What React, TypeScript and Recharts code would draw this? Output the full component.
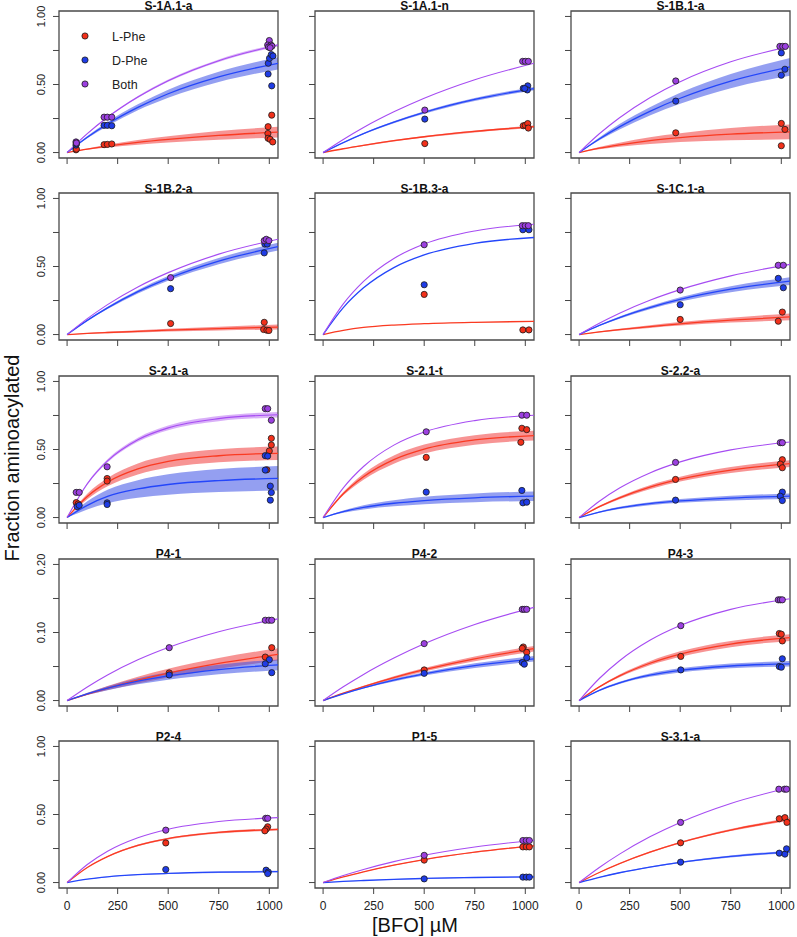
import React from 'react'
import { ComposedChart, Line, Area, Scatter, XAxis, YAxis, ReferenceArea } from 'recharts'

const FONT = '"Liberation Sans", Arial, Helvetica, sans-serif'

const RED = '#fa3a22'
const BLUE = '#2446fa'
const PURPLE = '#a64cf2'
const RED_DOT = '#f2301a'
const BLUE_DOT = '#1f3ce6'
const PURPLE_DOT = '#9c40e0'
const RED_BAND = 'rgba(240, 60, 60, 0.55)'
const BLUE_BAND = 'rgba(60, 80, 230, 0.55)'
const PURPLE_BAND = 'rgba(170, 80, 240, 0.45)'

// panel titles, row by row
const TITLES = [
  'S-1A.1-a', 'S-1A.1-n', 'S-1B.1-a',
  'S-1B.2-a', 'S-1B.3-a', 'S-1C.1-a',
  'S-2.1-a', 'S-2.1-t', 'S-2.2-a',
  'P4-1', 'P4-2', 'P4-3',
  'P2-4', 'P1-5', 'S-3.1-a',
]

const LEGEND = [
  { name: 'L-Phe', color: RED_DOT },
  { name: 'D-Phe', color: BLUE_DOT },
  { name: 'Both', color: PURPLE_DOT },
]

// [BFO] grid the fitted curves are read at
const X_GRID = [0, 100, 200, 350, 500, 750, 1043]
const X_TICKS = [0, 250, 500, 750, 1000]
const Y_TICKS = [0, 0.25, 0.5, 0.75, 1]
const Y_LABELS = [0, 0.5, 1]
const Y_TICKS_P4 = [0, 0.05, 0.1, 0.15, 0.2]
const Y_LABELS_P4 = [0, 0.1, 0.2]

// fitted curves (one row per panel, values at X_GRID)
const FIT_L = [
  [0, 0.025, 0.047, 0.075, 0.097, 0.126, 0.15],
  [0, 0.028, 0.053, 0.087, 0.116, 0.155, 0.19],
  [0, 0.032, 0.057, 0.088, 0.11, 0.135, 0.152],
  [0, 0.008, 0.015, 0.024, 0.032, 0.044, 0.055],
  [0, 0.03, 0.052, 0.07, 0.08, 0.09, 0.097],
  [0, 0.019, 0.036, 0.059, 0.079, 0.106, 0.13],
  [0, 0.155, 0.26, 0.357, 0.412, 0.454, 0.472],
  [0, 0.175, 0.3, 0.426, 0.503, 0.57, 0.602],
  [0, 0.08, 0.145, 0.223, 0.282, 0.349, 0.396],
  [0, 0.0096, 0.0184, 0.0301, 0.0404, 0.0547, 0.0678],
  [0, 0.0108, 0.0206, 0.0338, 0.0453, 0.0614, 0.0762],
  [0, 0.0201, 0.0362, 0.0548, 0.0683, 0.083, 0.0926],
  [0, 0.111, 0.191, 0.273, 0.323, 0.368, 0.39],
  [0, 0.042, 0.079, 0.128, 0.169, 0.223, 0.27],
  [0, 0.074, 0.139, 0.223, 0.294, 0.386, 0.464],
]

const FIT_D = [
  [0, 0.113, 0.21, 0.332, 0.432, 0.556, 0.656],
  [0, 0.073, 0.139, 0.223, 0.295, 0.39, 0.47],
  [0, 0.1, 0.189, 0.303, 0.399, 0.525, 0.63],
  [0, 0.104, 0.196, 0.315, 0.413, 0.54, 0.646],
  [0, 0.198, 0.343, 0.492, 0.585, 0.67, 0.713],
  [0, 0.067, 0.125, 0.198, 0.258, 0.333, 0.393],
  [0, 0.09, 0.155, 0.21, 0.243, 0.272, 0.288],
  [0, 0.044, 0.075, 0.105, 0.125, 0.145, 0.157],
  [0, 0.04, 0.071, 0.102, 0.122, 0.143, 0.157],
  [0, 0.0099, 0.0182, 0.0284, 0.0362, 0.0456, 0.0525],
  [0, 0.0099, 0.0187, 0.03, 0.0392, 0.0513, 0.0614],
  [0, 0.015, 0.026, 0.0373, 0.0443, 0.0508, 0.054],
  [0, 0.025, 0.042, 0.058, 0.067, 0.076, 0.081],
  [0, 0.008, 0.015, 0.024, 0.03, 0.037, 0.042],
  [0, 0.0385, 0.072, 0.114, 0.1485, 0.192, 0.226],
]

const FIT_B = [
  [0, 0.139, 0.259, 0.408, 0.528, 0.675, 0.79],
  [0, 0.096, 0.184, 0.299, 0.399, 0.535, 0.656],
  [0, 0.138, 0.256, 0.403, 0.521, 0.667, 0.78],
  [0, 0.117, 0.22, 0.35, 0.455, 0.591, 0.7],
  [0, 0.225, 0.39, 0.559, 0.665, 0.761, 0.81],
  [0, 0.083, 0.157, 0.252, 0.33, 0.431, 0.516],
  [0, 0.248, 0.416, 0.572, 0.659, 0.727, 0.755],
  [0, 0.218, 0.375, 0.532, 0.628, 0.712, 0.752],
  [0, 0.12, 0.217, 0.328, 0.409, 0.497, 0.555],
  [0, 0.02, 0.0376, 0.0599, 0.078, 0.1012, 0.12],
  [0, 0.0202, 0.0384, 0.0624, 0.0834, 0.1118, 0.137],
  [0, 0.0324, 0.0585, 0.0885, 0.1102, 0.134, 0.1495],
  [0, 0.1325, 0.23, 0.329, 0.392, 0.448, 0.477],
  [0, 0.0512, 0.0961, 0.1536, 0.2008, 0.2616, 0.311],
  [0, 0.111, 0.209, 0.336, 0.442, 0.581, 0.698],
]

// half widths of the shaded bands, at X_GRID
const BAND_L = [
  [0, 0.005, 0.01, 0.017, 0.023, 0.032, 0.04],
  [0, 0.002, 0.004, 0.005, 0.006, 0.007, 0.008],
  [0, 0.008, 0.015, 0.025, 0.032, 0.045, 0.055],
  [0, 0.003, 0.005, 0.008, 0.01, 0.014, 0.018],
  [0, 0, 0, 0, 0, 0, 0],
  [0, 0.003, 0.006, 0.01, 0.013, 0.018, 0.025],
  [0, 0.02, 0.03, 0.04, 0.045, 0.048, 0.05],
  [0, 0.012, 0.022, 0.03, 0.033, 0.035, 0.036],
  [0, 0.006, 0.01, 0.015, 0.018, 0.022, 0.025],
  [0, 0.0015, 0.003, 0.005, 0.0065, 0.008, 0.009],
  [0, 0.0006, 0.001, 0.002, 0.0025, 0.0035, 0.004],
  [0, 0.001, 0.002, 0.003, 0.004, 0.0045, 0.005],
  [0, 0.002, 0.004, 0.006, 0.007, 0.008, 0.008],
  [0, 0.001, 0.002, 0.003, 0.003, 0.004, 0.004],
  [0, 0.002, 0.003, 0.005, 0.006, 0.008, 0.01],
]

const BAND_D = [
  [0, 0.008, 0.015, 0.022, 0.03, 0.038, 0.045],
  [0, 0.003, 0.005, 0.007, 0.009, 0.011, 0.012],
  [0, 0.01, 0.02, 0.03, 0.04, 0.052, 0.065],
  [0, 0.004, 0.008, 0.013, 0.017, 0.023, 0.028],
  [0, 0, 0, 0, 0, 0, 0],
  [0, 0.004, 0.008, 0.012, 0.016, 0.022, 0.028],
  [0, 0.03, 0.05, 0.065, 0.075, 0.085, 0.09],
  [0, 0.008, 0.015, 0.022, 0.027, 0.032, 0.035],
  [0, 0.005, 0.008, 0.011, 0.014, 0.017, 0.02],
  [0, 0.0015, 0.003, 0.0045, 0.0055, 0.007, 0.008],
  [0, 0.0006, 0.001, 0.002, 0.0025, 0.0035, 0.004],
  [0, 0.001, 0.0015, 0.0025, 0.003, 0.0035, 0.004],
  [0, 0.001, 0.002, 0.003, 0.004, 0.005, 0.005],
  [0, 0.001, 0.001, 0.002, 0.003, 0.003, 0.004],
  [0, 0.002, 0.003, 0.004, 0.005, 0.007, 0.008],
]

const BAND_B = [
  [0, 0.003, 0.005, 0.007, 0.008, 0.009, 0.01],
  [0, 0, 0, 0, 0, 0, 0],
  [0, 0, 0, 0, 0, 0, 0],
  [0, 0, 0, 0, 0, 0, 0],
  [0, 0, 0, 0, 0, 0, 0],
  [0, 0, 0, 0, 0, 0, 0],
  [0, 0.008, 0.012, 0.015, 0.017, 0.019, 0.02],
  [0, 0, 0, 0, 0, 0, 0],
  [0, 0, 0, 0, 0, 0, 0],
  [0, 0, 0, 0, 0, 0, 0],
  [0, 0, 0, 0, 0, 0, 0],
  [0, 0, 0, 0, 0, 0, 0],
  [0, 0, 0, 0, 0, 0, 0],
  [0, 0, 0, 0, 0, 0, 0],
  [0, 0, 0, 0, 0, 0, 0],
]

// measured points [BFO µM, fraction]
const PTS_L = [
  [[44, 0.02], [46, 0.025], [183, 0.058], [199, 0.06], [221, 0.063], [1012, 0.275], [994, 0.19], [993, 0.14], [994, 0.105], [1004, 0.097], [1017, 0.078]],
  [[503, 0.066], [990, 0.197], [1000, 0.2], [1012, 0.213], [1015, 0.18]],
  [[478, 0.145], [1000, 0.214], [1018, 0.17], [1000, 0.05]],
  [[512, 0.081], [975, 0.09], [972, 0.037], [988, 0.032], [998, 0.03]],
  [[500, 0.295], [988, 0.034], [1018, 0.034]],
  [[500, 0.111], [1005, 0.165], [985, 0.098]],
  [[45, 0.11], [55, 0.1], [198, 0.287], [198, 0.268], [1010, 0.582], [1010, 0.533], [1000, 0.489], [988, 0.351]],
  [[510, 0.442], [983, 0.656], [1007, 0.646], [978, 0.553]],
  [[477, 0.28], [1005, 0.425], [995, 0.393], [1005, 0.366]],
  [[505, 0.0406], [1012, 0.0777], [980, 0.0639]],
  [[500, 0.045], [990, 0.0787], [985, 0.0767], [1007, 0.0708]],
  [[503, 0.0649], [990, 0.0985], [1000, 0.0975], [1005, 0.0876]],
  [[488, 0.291], [992, 0.41], [985, 0.393], [978, 0.38]],
  [[500, 0.165], [988, 0.262], [1005, 0.262], [1020, 0.262]],
  [[502, 0.292], [990, 0.469], [1018, 0.477], [1028, 0.442]],
]

const PTS_D = [
  [[44, 0.055], [46, 0.065], [183, 0.2], [199, 0.2], [221, 0.197], [1012, 0.49], [994, 0.577], [995, 0.656], [1001, 0.693], [1010, 0.72], [1018, 0.71]],
  [[503, 0.246], [990, 0.472], [1012, 0.49], [1010, 0.46], [997, 0.47]],
  [[478, 0.378], [1000, 0.732], [1018, 0.612], [1000, 0.568]],
  [[512, 0.337], [978, 0.665], [990, 0.665], [975, 0.6]],
  [[500, 0.366], [988, 0.77], [1018, 0.77]],
  [[500, 0.219], [985, 0.413], [1010, 0.344]],
  [[50, 0.08], [60, 0.09], [198, 0.108], [198, 0.096], [980, 0.455], [992, 0.452], [980, 0.349], [1005, 0.231], [1010, 0.184], [1005, 0.128]],
  [[510, 0.187], [983, 0.199], [988, 0.108], [1007, 0.113]],
  [[477, 0.128], [1005, 0.187], [995, 0.157], [1005, 0.125]],
  [[505, 0.0376], [1000, 0.06], [980, 0.054], [1012, 0.041]],
  [[500, 0.04], [1007, 0.063], [985, 0.0559], [995, 0.0535]],
  [[503, 0.045], [1005, 0.0614], [990, 0.05], [1000, 0.049]],
  [[488, 0.096], [984, 0.091], [995, 0.077], [992, 0.066]],
  [[500, 0.027], [988, 0.04], [1005, 0.04], [1020, 0.04]],
  [[502, 0.15], [990, 0.216], [1018, 0.209], [1026, 0.248]],
]

const PTS_B = [
  [[44, 0.078], [46, 0.07], [183, 0.26], [199, 0.26], [221, 0.26], [1000, 0.823], [992, 0.79], [1008, 0.79], [996, 0.775], [1013, 0.782], [1004, 0.77]],
  [[503, 0.312], [987, 0.67], [1000, 0.67], [1015, 0.67]],
  [[478, 0.526], [993, 0.78], [1007, 0.78], [1020, 0.78]],
  [[512, 0.418], [975, 0.69], [985, 0.7], [998, 0.69]],
  [[500, 0.66], [985, 0.8], [1000, 0.8], [1015, 0.8]],
  [[500, 0.327], [985, 0.509], [1010, 0.509]],
  [[45, 0.185], [60, 0.185], [198, 0.373], [980, 0.8], [992, 0.8], [1010, 0.715]],
  [[510, 0.63], [983, 0.752], [1007, 0.752]],
  [[477, 0.405], [995, 0.55], [1005, 0.55]],
  [[505, 0.0777], [980, 0.118], [998, 0.118], [1012, 0.118]],
  [[500, 0.0837], [985, 0.134], [995, 0.134], [1007, 0.134]],
  [[503, 0.11], [985, 0.148], [995, 0.148], [1005, 0.148]],
  [[488, 0.385], [982, 0.472], [992, 0.472]],
  [[500, 0.2], [988, 0.309], [1005, 0.309], [1020, 0.309]],
  [[502, 0.442], [988, 0.686], [1016, 0.686], [1026, 0.686]],
]

// layout (px)
const BOX_W = 219
const BOX_H = 147
const Y_AXIS_W = 45
const X_AXIS_H = 30
const EDGE = 16 // room around the plot so labels at the edges are not cut
const COL_X = [59, 315, 571]
const ROW_Y = [10.5, 193.2, 375.9, 558.6, 741.3]
const X_DOMAIN = [-40, 1043]
const P4_ROW = 3

const dotShape = (fill: string) => (props: any) => (
  <circle cx={props.cx} cy={props.cy} r={3.1} fill={fill} stroke="#1a1a1a" strokeWidth={0.8} />
)

function Panel({ i }: { i: number }) {
  const row = Math.floor(i / 3)
  const col = i % 3
  const small = row === P4_ROW
  const yMax = small ? 0.2 : 1
  const pad = yMax * 0.04
  const yTicks = small ? Y_TICKS_P4 : Y_TICKS
  const yLabels = small ? Y_LABELS_P4 : Y_LABELS

  const data = X_GRID.map((x, k) => ({
    x,
    l: FIT_L[i][k],
    d: FIT_D[i][k],
    b: FIT_B[i][k],
    lr: [FIT_L[i][k] - BAND_L[i][k], FIT_L[i][k] + BAND_L[i][k]],
    dr: [FIT_D[i][k] - BAND_D[i][k], FIT_D[i][k] + BAND_D[i][k]],
    br: [FIT_B[i][k] - BAND_B[i][k], FIT_B[i][k] + BAND_B[i][k]],
  }))
  const toPts = (arr: number[][]) => arr.map(([x, y]) => ({ x, y }))

  const xTick = (p: any) => {
    if (row !== 4) return <g />
    return (
      <text x={p.x} y={p.y} dy="0.71em" textAnchor="middle" fontSize={12} fill="#222" fontFamily={FONT}>
        {p.payload.value}
      </text>
    )
  }
  const yTick = (p: any) => {
    const v = p.payload.value
    if (col !== 0 || !yLabels.includes(v)) return <g />
    return (
      <text
        x={p.x}
        y={p.y}
        transform={`rotate(-90 ${p.x} ${p.y})`}
        textAnchor="middle"
        fontSize={11}
        fill="#222"
        fontFamily={FONT}
      >
        {v.toFixed(2)}
      </text>
    )
  }

  return (
    <div style={{ position: 'absolute', left: COL_X[col] - Y_AXIS_W, top: ROW_Y[row] - EDGE }}>
      <ComposedChart
        width={Y_AXIS_W + BOX_W + EDGE}
        height={EDGE + BOX_H + X_AXIS_H}
        data={data}
        margin={{ top: EDGE, right: EDGE, bottom: 0, left: 0 }}
      >
        <XAxis
          type="number"
          dataKey="x"
          domain={X_DOMAIN}
          ticks={X_TICKS}
          interval={0}
          allowDataOverflow
          axisLine={false}
          tickLine={{ stroke: '#444' }}
          tickSize={6}
          tickMargin={7}
          height={X_AXIS_H}
          tick={xTick}
        />
        <YAxis
          type="number"
          domain={[-pad, yMax + pad]}
          ticks={yTicks}
          interval={0}
          allowDataOverflow
          axisLine={false}
          tickLine={{ stroke: '#444' }}
          tickSize={6}
          tickMargin={8}
          width={Y_AXIS_W}
          tick={yTick}
        />
        <Area dataKey="lr" type="monotone" stroke="none" fill={RED_BAND} fillOpacity={1} dot={false} activeDot={false} isAnimationActive={false} />
        <Area dataKey="dr" type="monotone" stroke="none" fill={BLUE_BAND} fillOpacity={1} dot={false} activeDot={false} isAnimationActive={false} />
        <Area dataKey="br" type="monotone" stroke="none" fill={PURPLE_BAND} fillOpacity={1} dot={false} activeDot={false} isAnimationActive={false} />
        <Line dataKey="l" type="monotone" stroke={RED} strokeWidth={1.3} dot={false} activeDot={false} isAnimationActive={false} />
        <Line dataKey="d" type="monotone" stroke={BLUE} strokeWidth={1.3} dot={false} activeDot={false} isAnimationActive={false} />
        <Line dataKey="b" type="monotone" stroke={PURPLE} strokeWidth={1.1} dot={false} activeDot={false} isAnimationActive={false} />
        <Scatter data={toPts(PTS_L[i])} dataKey="y" shape={dotShape(RED_DOT)} isAnimationActive={false} />
        <Scatter data={toPts(PTS_D[i])} dataKey="y" shape={dotShape(BLUE_DOT)} isAnimationActive={false} />
        <Scatter data={toPts(PTS_B[i])} dataKey="y" shape={dotShape(PURPLE_DOT)} isAnimationActive={false} />
        <ReferenceArea
          x1={X_DOMAIN[0]}
          x2={X_DOMAIN[1]}
          y1={-pad}
          y2={yMax + pad}
          fill="none"
          fillOpacity={0}
          stroke="#4a4a4a"
          strokeWidth={1.3}
          ifOverflow="visible"
        />
      </ComposedChart>
    </div>
  )
}

export default function App() {
  return (
    <div style={{ position: 'absolute', left: 0, top: 0, width: 797, height: 937, background: '#fff', fontFamily: FONT }}>
      {TITLES.map((_, i) => (
        <Panel key={i} i={i} />
      ))}
      <svg width={797} height={937} style={{ position: 'absolute', left: 0, top: 0, pointerEvents: 'none' }}>
        {TITLES.map((t, i) => (
          <text
            key={t}
            x={COL_X[i % 3] + BOX_W / 2}
            y={ROW_Y[Math.floor(i / 3)] - 0.5}
            textAnchor="middle"
            fontSize={12}
            fontWeight="bold"
            fill="#111"
            fontFamily={FONT}
          >
            {t}
          </text>
        ))}
        {/* legend, first panel */}
        {LEGEND.map((e, k) => (
          <g key={e.name}>
            <circle cx={85} cy={36 + k * 24} r={3.1} fill={e.color} stroke="#1a1a1a" strokeWidth={0.8} />
            <text x={112} y={36 + k * 24 + 4.5} fontSize={12.5} fill="#222" fontFamily={FONT}>
              {e.name}
            </text>
          </g>
        ))}
        <text x={415} y={932} textAnchor="middle" fontSize={20} fill="#111" fontFamily={FONT}>
          [BFO] µM
        </text>
        <text x={18.5} y={458} transform="rotate(-90 18.5 458)" textAnchor="middle" fontSize={20} fill="#111" fontFamily={FONT}>
          Fraction aminoacylated
        </text>
      </svg>
    </div>
  )
}
